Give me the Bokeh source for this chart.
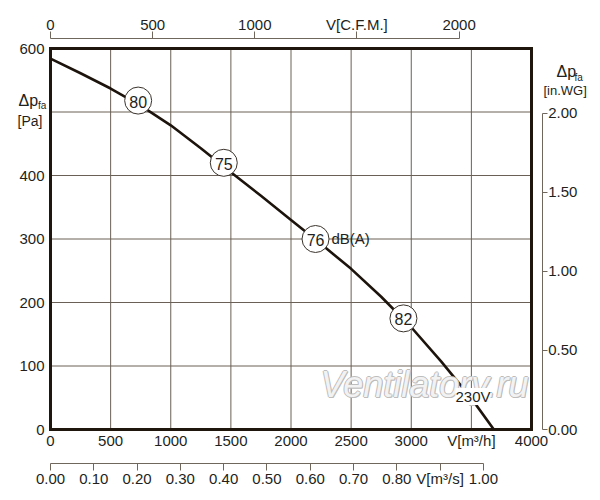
from bokeh.plotting import figure
from bokeh.models import Range1d, LinearAxis, FixedTicker, Label, PrintfTickFormatter, ColumnDataSource
from bokeh.core.properties import value
from bokeh.embed import file_html
from bokeh.resources import INLINE

# ---- data ----
flow_m3h = [0, 250, 500, 750, 1000, 1250, 1500, 1750, 2000, 2250, 2500, 2750, 3000, 3250, 3500, 3687]
pressure_pa = [584, 561, 537, 510, 479, 443, 405, 368, 330, 292, 253, 209, 161, 107, 49, 0]

noise_flow = [729, 1441, 2204, 2935]
noise_pressure = [518, 420, 300, 175]
noise_labels = ["80", "75", "76", "82"]

x_ticks = [0, 500, 1000, 1500, 2000, 2500, 3000, 3500, 4000]
y_ticks = [0, 100, 200, 300, 400, 500, 600]
y_label_ticks = [0, 100, 200, 300, 400, 600]
cfm_ticks = [0, 500, 1000, 1500, 2000]
m3s_ticks = [0.0, 0.1, 0.2, 0.3, 0.4, 0.5, 0.6, 0.7, 0.8, 0.9, 1.0]
inwg_ticks = [0.0, 0.5, 1.0, 1.5, 2.0]

M3H_PER_CFM = 1.699
M3H_PER_M3S = 3600.0
PA_PER_INWG = 249.089

X_MAX = 4000
Y_MAX = 600

TXT = "#231f1c"
GRID = "#6a6055"
AXL = "#6f665c"
FRAME = "#1f160d"
FONT = "Liberation Sans"

W, H = 592, 492
# chart frame in canvas pixels
FL, FW, FB, FH = 50.0, 481.0, 429.0, 381.0

def px2x(px):
    return (px - FL) / FW * X_MAX

def py2y(py):
    return (FB - py) / FH * Y_MAX

p = figure(width=W, height=H, output_backend="svg", toolbar_location=None, title=None,
           x_range=Range1d(px2x(0), px2x(W)), y_range=Range1d(py2y(H), py2y(0)),
           x_axis_location=None, y_axis_location=None,
           min_border=0, min_border_left=0, min_border_right=0, min_border_top=0, min_border_bottom=0)
p.background_fill_color = "white"
p.border_fill_color = "white"
p.outline_line_color = None
for g in p.grid:
    g.visible = False

p.extra_x_ranges = {
    "cfm": Range1d(px2x(0) / M3H_PER_CFM, px2x(W) / M3H_PER_CFM),
    "m3s": Range1d(px2x(0) / M3H_PER_M3S, px2x(W) / M3H_PER_M3S),
}
p.extra_y_ranges = {"inwg": Range1d(py2y(H) / PA_PER_INWG, py2y(0) / PA_PER_INWG)}

# grid lines and frame
inner_x = x_ticks[1:-1]
inner_y = y_ticks[1:-1]
p.segment(x0=inner_x, y0=[0] * len(inner_x), x1=inner_x, y1=[Y_MAX] * len(inner_x),
          line_color=GRID, line_width=1)
p.segment(x0=[0] * len(inner_y), y0=inner_y, x1=[X_MAX] * len(inner_y), y1=inner_y,
          line_color=GRID, line_width=1)
p.quad(left=[0], right=[X_MAX], bottom=[0], top=[Y_MAX], fill_color=None,
       line_color=FRAME, line_width=3, line_join="miter")

def style_axis(ax, standoff, tick_out=0, line=False, size="15px"):
    ax.major_label_text_font = FONT
    ax.major_label_text_font_size = size
    ax.major_label_text_color = TXT
    ax.major_label_standoff = standoff
    ax.major_tick_in = 0
    ax.major_tick_out = tick_out
    ax.minor_tick_in = 0
    ax.minor_tick_out = 0
    ax.minor_tick_line_color = None
    ax.major_tick_line_color = AXL if tick_out else None
    ax.axis_line_color = AXL if line else None
    ax.axis_line_width = 1

# left Pa axis
ya = LinearAxis(ticker=FixedTicker(ticks=y_label_ticks), fixed_location=0, bounds=(0, Y_MAX))
style_axis(ya, 6)
p.add_layout(ya, "left")

# bottom m3/h axis
xa = LinearAxis(ticker=FixedTicker(ticks=x_ticks), fixed_location=0, bounds=(0, X_MAX))
xa.major_label_overrides = {3500: "V[m³/h]"}
style_axis(xa, 2)
p.add_layout(xa, "below")

# bottom m3/s axis
m3s = LinearAxis(x_range_name="m3s", ticker=FixedTicker(ticks=m3s_ticks),
                 formatter=PrintfTickFormatter(format="%.2f"), bounds=(0, 1.0),
                 fixed_location=py2y(462.7))
m3s.major_label_overrides = {0.9: "V[m³/s]"}
style_axis(m3s, 0, tick_out=7, line=True)
p.add_layout(m3s, "below")

# top CFM axis
cfm = LinearAxis(x_range_name="cfm", ticker=FixedTicker(ticks=cfm_ticks), bounds=(0, 2000),
                 fixed_location=py2y(38.3))
cfm.major_label_overrides = {1500: "V[C.F.M.]"}
style_axis(cfm, -1, tick_out=7, line=True)
p.add_layout(cfm, "above")

# right in.WG axis
inwg = LinearAxis(y_range_name="inwg", ticker=FixedTicker(ticks=inwg_ticks),
                  formatter=PrintfTickFormatter(format="%.2f"), bounds=(0, 2.0),
                  fixed_location=px2x(541.7))
style_axis(inwg, 1, tick_out=5, line=True)
p.add_layout(inwg, "right")

# curve
p.line(flow_m3h, pressure_pa, line_width=2.6, line_color="#1c140c", line_join="round")

# noise circles
src = ColumnDataSource(dict(x=noise_flow, y=noise_pressure, t=noise_labels))
p.scatter("x", "y", source=src, size=27, fill_color="white", line_color="#3a332c", line_width=1)
p.text("x", "y", text="t", source=src, text_align="center", text_baseline="middle",
       text_font=value(FONT), text_font_size="16px", text_color=TXT, y_offset=1)

# watermark
wm_x, wm_y = px2x(424), py2y(384)
for dx, dy in [(-1, 0), (1, 0), (0, -1), (0, 1), (1, -1)]:
    p.add_layout(Label(x=wm_x, y=wm_y, text="Ventilatory.ru", text_font=FONT, text_font_size="36px",
                       text_font_style="italic", text_color="#bdbdbd", text_align="center",
                       text_baseline="middle", x_offset=dx, y_offset=dy))
p.add_layout(Label(x=wm_x, y=wm_y, text="Ventilatory.ru", text_font=FONT, text_font_size="36px",
                   text_font_style="italic", text_color="#f2f2f2", text_align="center",
                   text_baseline="middle"))

def lab(px, py, text, size="15px", bg=None):
    kw = dict(x=px2x(px), y=py2y(py), text=text, text_font=FONT, text_font_size=size,
              text_color=TXT, text_align="left", text_baseline="middle")
    if bg:
        kw["background_fill_color"] = bg
    p.add_layout(Label(**kw))

lab(331, 238, "dB(A)", "15px")
lab(455, 396, "230V", "15px", bg="white")

# axis titles
lab(18, 100, "Δp", "16px")
lab(37.5, 105, "fa", "10px")
lab(17, 120, "[Pa]", "14px")
lab(556, 71, "Δp", "16px")
lab(574, 77, "fa", "10px")
lab(543, 90, "[in.WG]", "13px")

open("out.html", "w").write(file_html(p, INLINE))
